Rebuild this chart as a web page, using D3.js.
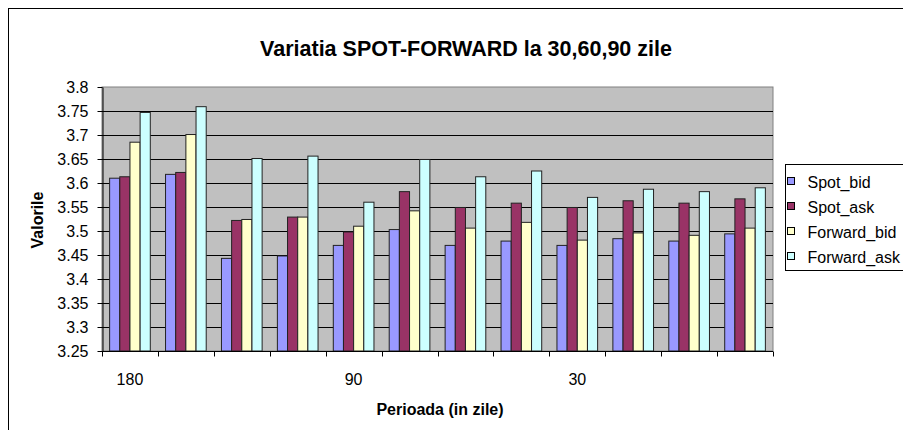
<!DOCTYPE html>
<html>
<head>
<meta charset="utf-8">
<script src="https://cdn.jsdelivr.net/npm/d3@7"></script>
<style>
  html, body { margin: 0; padding: 0; background: #fff; }
  svg { display: block; font-family: "Liberation Sans", Arial, sans-serif; }
</style>
</head>
<body>
<svg id="chart" width="903" height="430"></svg>
<script>
// Variatia SPOT-FORWARD - clustered columns, Excel style

const categories = ["180", "", "", "", "90", "", "", "", "30", "", "", ""];
const seriesNames = ["Spot_bid", "Spot_ask", "Forward_bid", "Forward_ask"];
const seriesColors = ["#9999ff", "#993366", "#ffffcc", "#ccffff"];

const spotBid    = [3.61, 3.618, 3.443, 3.448, 3.47, 3.503, 3.47, 3.479, 3.47, 3.484, 3.479, 3.494];
const spotAsk    = [3.613, 3.622, 3.522, 3.529, 3.498, 3.582, 3.549, 3.558, 3.549, 3.563, 3.558, 3.567];
const forwardBid = [3.685, 3.701, 3.524, 3.529, 3.51, 3.542, 3.506, 3.518, 3.481, 3.496, 3.491, 3.506];
const forwardAsk = [3.747, 3.759, 3.651, 3.656, 3.56, 3.649, 3.613, 3.625, 3.57, 3.587, 3.582, 3.59];

const yTicks = [3.25, 3.3, 3.35, 3.4, 3.45, 3.5, 3.55, 3.6, 3.65, 3.7, 3.75, 3.8];

const allSeries = [spotBid, spotAsk, forwardBid, forwardAsk];

const svg = d3.select("#chart");
const plot = { left: 102, right: 773, top: 87, bottom: 351 };

// chart border
svg.append("rect")
  .attr("x", 8.5).attr("y", 8.5)
  .attr("width", 1000).attr("height", 1000)
  .attr("fill", "#fff").attr("stroke", "#000").attr("stroke-width", 1);

const x = d3.scaleBand()
  .domain(d3.range(categories.length))
  .range([plot.left, plot.right])
  .paddingInner(0).paddingOuter(0);

const xs = d3.scaleBand()
  .domain(d3.range(seriesNames.length))
  .range([0, x.bandwidth()])
  .paddingInner(0).paddingOuter(0.75);

const y = d3.scaleLinear().domain([3.25, 3.8]).range([plot.bottom, plot.top]);

// plot area
svg.append("rect")
  .attr("x", plot.left).attr("y", plot.top)
  .attr("width", plot.right - plot.left).attr("height", plot.bottom - plot.top)
  .attr("fill", "#c0c0c0").attr("stroke", "#808080");

// gridlines
svg.append("g")
  .selectAll("line")
  .data(yTicks.slice(1, -1))
  .join("line")
  .attr("x1", plot.left).attr("x2", plot.right)
  .attr("y1", d => Math.round(y(d)) + 0.5).attr("y2", d => Math.round(y(d)) + 0.5)
  .attr("stroke", "#000");

// bars
const groups = svg.append("g")
  .selectAll("g")
  .data(categories.map((c, i) => i))
  .join("g")
  .attr("transform", i => `translate(${x(i)},0)`);

groups.selectAll("rect")
  .data(i => allSeries.map((s, k) => ({ k, v: s[i] })))
  .join("rect")
  .attr("x", d => xs(d.k))
  .attr("y", d => y(d.v))
  .attr("width", xs.bandwidth())
  .attr("height", d => y(3.25) - y(d.v))
  .attr("fill", d => seriesColors[d.k])
  .attr("stroke", "#222")
  .attr("stroke-width", 1);

// y axis
const yAxis = svg.append("g")
  .attr("transform", `translate(${plot.left + 0.5},0)`)
  .call(d3.axisLeft(y).tickValues(yTicks).tickFormat(d3.format(".2~f")).tickSize(5).tickSizeOuter(0).tickPadding(9));
yAxis.select(".domain").attr("stroke", "#000");
yAxis.selectAll("text").attr("font-size", 16).attr("fill", "#000")
  .attr("font-family", '"Liberation Sans", Arial, sans-serif');

// x axis: ticks at category boundaries
const xAxis = svg.append("g").attr("transform", `translate(0,${plot.bottom + 0.5})`);
xAxis.append("line")
  .attr("x1", plot.left).attr("x2", plot.right)
  .attr("stroke", "#000");
xAxis.selectAll("line.tick")
  .data(d3.range(categories.length + 1))
  .join("line")
  .attr("class", "tick")
  .attr("x1", i => Math.round(plot.left + i * x.step()) + 0.5)
  .attr("x2", i => Math.round(plot.left + i * x.step()) + 0.5)
  .attr("y1", 0).attr("y2", 5)
  .attr("stroke", "#000");
xAxis.selectAll("text")
  .data(categories)
  .join("text")
  .attr("x", (c, i) => x(i) + x.bandwidth() / 2)
  .attr("y", 33)
  .attr("text-anchor", "middle")
  .attr("font-size", 16)
  .text(c => c);

// titles
svg.append("text")
  .attr("x", 466).attr("y", 56)
  .attr("text-anchor", "middle")
  .attr("font-size", 21.5).attr("font-weight", "bold")
  .text("Variatia SPOT-FORWARD la 30,60,90 zile");

svg.append("text")
  .attr("x", 440).attr("y", 415)
  .attr("text-anchor", "middle")
  .attr("font-size", 16).attr("font-weight", "bold")
  .text("Perioada (in zile)");

svg.append("text")
  .attr("transform", "translate(43,220) rotate(-90)")
  .attr("text-anchor", "middle")
  .attr("font-size", 16).attr("font-weight", "bold")
  .text("Valorile");

// legend
const legend = svg.append("g").attr("transform", "translate(785.5,164.5)");
legend.append("rect")
  .attr("width", 200).attr("height", 106)
  .attr("fill", "#fff").attr("stroke", "#000");
const item = legend.selectAll("g.item")
  .data(seriesNames)
  .join("g")
  .attr("class", "item")
  .attr("transform", (d, i) => `translate(0,${17 + i * 25})`);
item.append("rect")
  .attr("x", 2).attr("y", -4)
  .attr("width", 7).attr("height", 7)
  .attr("fill", (d, i) => seriesColors[i])
  .attr("stroke", "#000");
item.append("text")
  .attr("x", 22).attr("y", 6)
  .attr("font-size", 16)
  .text(d => d);
</script>
</body>
</html>
